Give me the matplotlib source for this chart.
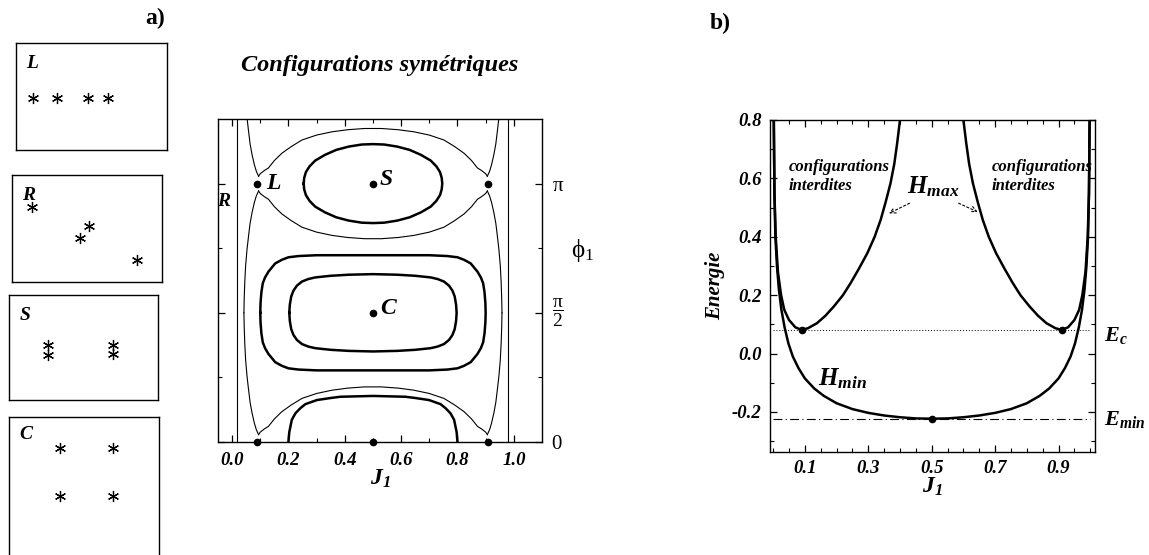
import numpy as np
import matplotlib
matplotlib.use("Agg")
import matplotlib.pyplot as plt
from matplotlib.ticker import FixedLocator, MultipleLocator

plt.rcParams["font.family"] = ["Liberation Serif", "DejaVu Serif"]
plt.rcParams["mathtext.fontset"] = "custom"
plt.rcParams["mathtext.rm"] = "Liberation Serif"
plt.rcParams["mathtext.it"] = "Liberation Serif:italic"
plt.rcParams["mathtext.bf"] = "Liberation Serif:bold"
plt.rcParams["mathtext.bfit"] = "Liberation Serif:bold:italic"

PI = np.pi

# --- vortex configurations shown in the small boxes (box-relative coords)
BOX_NAMES = ["L", "R", "S", "C"]
BOX_X = {
    "L": [0.11, 0.27, 0.48, 0.61],
    "R": [0.13, 0.51, 0.45, 0.83],
    "S": [0.26, 0.26, 0.70, 0.70],
    "C": [0.34, 0.69, 0.34, 0.69],
}
BOX_Y = {
    "L": [0.49, 0.49, 0.49, 0.49],
    "R": [0.70, 0.52, 0.41, 0.21],
    "S": [0.52, 0.43, 0.52, 0.44],
    "C": [0.79, 0.79, 0.47, 0.47],
}

# --- phase portrait (J1, phi1): half profiles, mirrored about J1 = 0.5
# thin level through the L points: offset from phi = 0 / pi
SEP_J = [0.094, 0.10, 0.115, 0.129, 0.15, 0.177, 0.21, 0.248, 0.30, 0.355, 0.41, 0.47, 0.5]
SEP_D = [0.09, 0.12, 0.16, 0.19, 0.28, 0.37, 0.45, 0.53, 0.59, 0.63, 0.655, 0.67, 0.67]
# side branches of the same level: J1 versus offset from phi = 0 / pi
SIDE_EPS = [0.09, 0.15, 0.23, 0.35, 0.48, 0.65, 0.80, 1.00, 1.20, 1.40, PI / 2]
SIDE_J = [0.094, 0.086, 0.079, 0.071, 0.064, 0.058, 0.053, 0.048, 0.045, 0.043, 0.042]
# thick loop around S (phi = pi)
S_J = [0.254, 0.256, 0.262, 0.275, 0.295, 0.33, 0.37, 0.414, 0.46, 0.5]
S_D = [0.0, 0.07, 0.14, 0.21, 0.28, 0.35, 0.41, 0.45, 0.475, 0.48]
# thick arch at phi = 0
A_J = [0.2, 0.203, 0.212, 0.225, 0.242, 0.26, 0.301, 0.35, 0.384, 0.44, 0.5]
A_D = [0.0, 0.12, 0.27, 0.35, 0.41, 0.46, 0.51, 0.535, 0.55, 0.555, 0.56]
# thick loops around C (phi = pi/2)
CI_J = [0.203, 0.205, 0.21, 0.218, 0.23, 0.248, 0.27, 0.295, 0.35, 0.414, 0.5]
CI_D = [0.0, 0.10, 0.20, 0.27, 0.33, 0.38, 0.41, 0.43, 0.45, 0.463, 0.47]
CO_J = [0.10, 0.101, 0.104, 0.109, 0.117, 0.129, 0.153, 0.177, 0.2, 0.236, 0.3, 0.4, 0.5]
CO_D = [0.0, 0.12, 0.25, 0.36, 0.43, 0.50, 0.60, 0.645, 0.675, 0.69, 0.70, 0.70, 0.70]
R_LINES = [0.019, 0.981]
FIXED_J = [0.09, 0.5, 0.91, 0.5, 0.09, 0.5, 0.91]
FIXED_PHI = [PI, PI, PI, PI / 2, 0.0, 0.0, 0.0]

# --- energy bounds versus J1 (left half, mirrored about 0.5)
HMIN_J = [0.002, 0.004, 0.007, 0.012, 0.018, 0.026, 0.036, 0.048, 0.062, 0.08,
          0.10, 0.13, 0.16, 0.20, 0.25, 0.30, 0.35, 0.40, 0.45, 0.50]
HMIN_E = [0.80, 0.55, 0.40, 0.30, 0.22, 0.15, 0.09, 0.035, -0.01, -0.05,
          -0.085, -0.12, -0.145, -0.17, -0.19, -0.203, -0.212, -0.218, -0.222, -0.223]
HMAX_J = [0.002, 0.004, 0.008, 0.015, 0.025, 0.035, 0.05, 0.07, 0.09, 0.11, 0.138,
          0.165, 0.191, 0.22, 0.244, 0.27, 0.297, 0.32, 0.339, 0.355, 0.37, 0.382, 0.391, 0.40]
HMAX_E = [0.80, 0.55, 0.40, 0.28, 0.20, 0.15, 0.115, 0.09, 0.081, 0.087, 0.104,
          0.13, 0.161, 0.20, 0.241, 0.29, 0.344, 0.40, 0.458, 0.52, 0.583, 0.65, 0.72, 0.80]
E_C = 0.081
E_MIN = -0.223
CRIT_J = [0.09, 0.91, 0.5]
CRIT_E = [E_C, E_C, E_MIN]

W, H = 1149, 555


def fig_rect(x0, y0, x1, y1):
    return [x0 / W, 1 - y1 / H, (x1 - x0) / W, (y1 - y0) / H]


def mirror(jj, dd):
    jj = np.asarray(jj)
    dd = np.asarray(dd)
    return np.concatenate([jj, 1 - jj[::-1][1:]]), np.concatenate([dd, dd[::-1][1:]])


def closed_loop(jj, dd, center):
    jm, dm = mirror(jj, dd)
    x = np.concatenate([jm, jm[::-1]])
    y = np.concatenate([center + dm, center - dm[::-1]])
    return x, y


fig = plt.figure(figsize=(W / 100, H / 100), dpi=100)

bold_it = dict(fontweight="bold", fontstyle="italic")

# ---------- small boxes
box_rects = {
    "L": (16, 43, 167, 150),
    "R": (12, 175, 162, 282),
    "S": (9, 295, 158, 400),
    "C": (9, 417, 159, 566),
}
for name in BOX_NAMES:
    cx = fig.add_axes(fig_rect(*box_rects[name]))
    cx.set_xlim(0, 1)
    cx.set_ylim(0, 1)
    cx.set_xticks([])
    cx.set_yticks([])
    for sp in cx.spines.values():
        sp.set_linewidth(1.0)
    cx.plot(BOX_X[name], BOX_Y[name], linestyle="none", marker=(6, 2, 0),
            markersize=8, markeredgewidth=0.9, color="black")
    cx.text(0.07, 0.94 if name == "C" else 0.89, name, fontsize=14, va="top",
            transform=cx.transAxes, **bold_it)

fig.text(155 / W, 1 - 18 / H, "a)", fontsize=17, fontweight="bold", ha="center", va="center")
fig.text(720 / W, 1 - 23 / H, "b)", fontsize=17, fontweight="bold", ha="center", va="center")
fig.text(380 / W, 1 - 65 / H, "Configurations symétriques", fontsize=17.5,
         ha="center", va="center", **bold_it)

# ---------- phase portrait
ax = fig.add_axes(fig_rect(218, 119, 542, 442))
ax.set_xlim(-0.05, 1.10)
ax.set_ylim(0, 1.25 * PI)

thin = dict(color="black", lw=0.8)
thick = dict(color="black", lw=1.8)

for xv in R_LINES:
    ax.axvline(xv, **thin)

sj, sd = mirror(SEP_J, SEP_D)
for c in (0.0, PI):
    ax.plot(sj, c + sd, **thin)
    if c > 0:
        ax.plot(sj, c - sd, **thin)
    for side_j in (np.asarray(SIDE_J), 1 - np.asarray(SIDE_J)):
        ax.plot(side_j, c + np.asarray(SIDE_EPS), **thin)
        if c > 0:
            ax.plot(side_j, c - np.asarray(SIDE_EPS), **thin)

x, y = closed_loop(S_J, S_D, PI)
ax.plot(x, y, **thick)
aj, ad = mirror(A_J, A_D)
ax.plot(aj, ad, **thick)
x, y = closed_loop(CI_J, CI_D, PI / 2)
ax.plot(x, y, **thick)
x, y = closed_loop(CO_J, CO_D, PI / 2)
ax.plot(x, y, **thick)

ax.plot(FIXED_J, FIXED_PHI, "o", color="black", ms=4.5, clip_on=False, zorder=5)

ax.text(0.12, PI, "L", fontsize=17, va="center", ha="left", **bold_it)
ax.text(0.525, PI + 0.05, "S", fontsize=17, va="center", ha="left", **bold_it)
ax.text(0.525, PI / 2 + 0.05, "C", fontsize=17, va="center", ha="left", **bold_it)
ax.text(-0.03, 2.93, "R", fontsize=14, va="center", ha="center", **bold_it)

ax.xaxis.set_major_locator(FixedLocator([0.0, 0.2, 0.4, 0.6, 0.8, 1.0]))
ax.xaxis.set_minor_locator(FixedLocator(np.arange(0.1, 1.0, 0.2)))
ax.set_xticklabels(["0.0", "0.2", "0.4", "0.6", "0.8", "1.0"], fontsize=13.5, **bold_it)
ax.yaxis.set_major_locator(FixedLocator([0, PI / 2, PI]))
ax.yaxis.set_minor_locator(FixedLocator([PI / 4, 3 * PI / 4]))
ax.set_yticklabels(["0", "", r"$\mathrm{\pi}$"], fontsize=15)
ax.text(1.137, PI / 2, r"$\dfrac{\mathrm{\pi}}{2}$", fontsize=14, ha="left", va="center")
ax.tick_params(which="both", direction="in", top=True, bottom=True, left=True, right=True,
               labelleft=False, labelright=True)
ax.tick_params(which="major", length=5, width=0.9, pad=7)
ax.tick_params(which="minor", length=3, width=0.8)
ax.set_xlabel(r"$\mathbfit{J}_{\mathbfit{1}}$", fontsize=17, labelpad=-1)
fig.text(583 / W, 1 - 250 / H, r"$\mathrm{\phi}_\mathrm{1}$", fontsize=18, ha="center", va="center")
for sp in ax.spines.values():
    sp.set_linewidth(1.0)

# ---------- energy bounds
bx = fig.add_axes(fig_rect(770, 120, 1095, 452))
bx.set_xlim(-0.01, 1.015)
bx.set_ylim(-0.337, 0.8)

hj, he = mirror(HMIN_J, HMIN_E)
bx.plot(hj, he, color="black", lw=1.8)
mj = np.asarray(HMAX_J)
me = np.asarray(HMAX_E)
bx.plot(mj, me, color="black", lw=1.8)
bx.plot(1 - mj, me, color="black", lw=1.8)
bx.plot([0, 1], [E_C, E_C], color="black", lw=0.7, linestyle=(0, (1, 2)))
bx.plot([0, 1], [E_MIN, E_MIN], color="black", lw=0.8, linestyle=(0, (8, 3, 1, 3)))
bx.plot(CRIT_J, CRIT_E, "o", color="black", ms=4.5, zorder=5)

bx.text(0.05, 0.605, "configurations\ninterdites", fontsize=12, va="center", ha="left",
        linespacing=1.25, **bold_it)
bx.text(0.69, 0.605, "configurations\ninterdites", fontsize=12, va="center", ha="left",
        linespacing=1.25, **bold_it)
bx.text(0.505, 0.57, r"$\mathbfit{H}_{\mathbfit{max}}$", fontsize=18, ha="center", va="center")
arrow = dict(arrowstyle="->", lw=0.8, linestyle=(0, (2, 2)), color="black",
             shrinkA=0, shrinkB=0)
bx.annotate("", xy=(0.365, 0.48), xytext=(0.43, 0.515), arrowprops=arrow)
bx.annotate("", xy=(0.645, 0.485), xytext=(0.585, 0.515), arrowprops=arrow)
bx.text(0.14, -0.085, r"$\mathbfit{H}_{\mathbfit{min}}$", fontsize=18, ha="left", va="center")
fig.text(1104 / W, 1 - 336 / H, r"$\mathbfit{E}_{\mathbfit{c}}$", fontsize=16, ha="left", va="center")
fig.text(1104 / W, 1 - 420 / H, r"$\mathbfit{E}_{\mathbfit{min}}$", fontsize=16, ha="left", va="center")

bx.xaxis.set_major_locator(FixedLocator([0.1, 0.3, 0.5, 0.7, 0.9]))
bx.xaxis.set_minor_locator(MultipleLocator(0.05))
bx.set_xticklabels(["0.1", "0.3", "0.5", "0.7", "0.9"], fontsize=13.5, **bold_it)
bx.yaxis.set_major_locator(FixedLocator([-0.2, 0.0, 0.2, 0.4, 0.6, 0.8]))
bx.yaxis.set_minor_locator(MultipleLocator(0.1))
bx.set_yticklabels(["-0.2", "0.0", "0.2", "0.4", "0.6", "0.8"], fontsize=13.5, **bold_it)
bx.tick_params(which="both", direction="in", top=True, right=True)
bx.tick_params(which="major", length=5, width=0.9, pad=6)
bx.tick_params(which="minor", length=3, width=0.8)
bx.set_xlabel(r"$\mathbfit{J}_{\mathbfit{1}}$", fontsize=17, labelpad=-1)
bx.set_ylabel("Energie", fontsize=15, labelpad=5, **bold_it)
for sp in bx.spines.values():
    sp.set_linewidth(1.0)

fig.savefig("out.png", dpi=100)
